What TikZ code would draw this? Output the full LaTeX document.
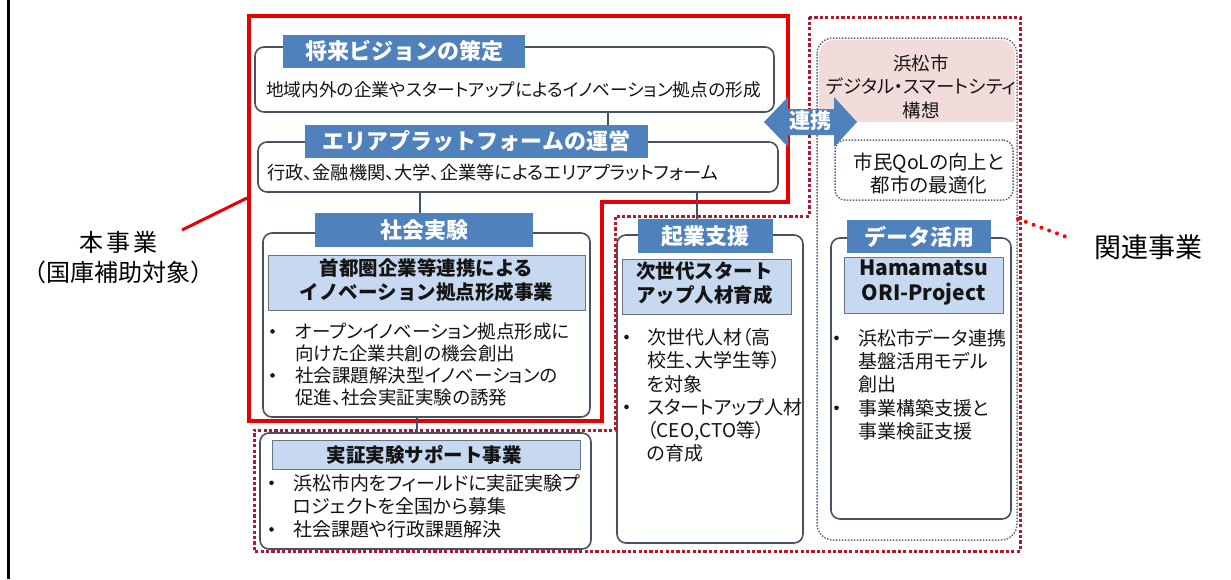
\documentclass[tikz,border=0pt]{standalone}
\usepackage{fontspec}
\setmainfont{Noto Sans CJK JP}[RawFeature=+palt]
\newfontfamily\fwfont{Noto Sans CJK JP}
\definecolor{tagblue}{RGB}{79,129,189}
\definecolor{headblue}{RGB}{198,217,241}
\definecolor{boxgray}{RGB}{68,82,98}
\definecolor{solidred}{RGB}{232,0,0}
\definecolor{dotred}{RGB}{180,22,48}
\definecolor{dotgray}{RGB}{90,100,115}
\definecolor{pinkfill}{RGB}{242,220,219}
\definecolor{txt}{RGB}{20,20,20}
\newcommand{\fsz}[2]{\fontsize{#1}{#2}\selectfont}
\newcommand{\bl}[1][23pt]{\makebox[#1][l]{\raisebox{0.5ex}{\tikz\fill (0,0) circle[radius=2.3pt];}}}
\begin{document}
\begin{tikzpicture}[x=1pt,y=-1pt,
  wh/.style 2 args={minimum width=#1pt, minimum height=#2pt},
  panel/.style={draw=boxgray, line width=1.6pt, rounded corners=9pt, fill=white, inner sep=0pt},
  tag/.style={fill=tagblue, text=white, inner sep=0pt, font=\fwfont\bfseries\fsz{22}{26}},
  head/.style={fill=headblue, draw=boxgray!80, line width=0.8pt, inner sep=0pt},
  headtxt/.style={font=\fwfont\bfseries\fsz{19.5}{24}, align=center, inner sep=0pt, text=txt},
  body/.style={font=\fsz{19}{23.3}, inner sep=0pt, text=txt},
  list/.style={body, anchor=north west, align=left},
  conn/.style={draw=boxgray, line width=1.5pt},
  redframe/.style={draw=solidred, line width=4pt},
  dotframe/.style={draw=dotred, line width=3pt, dash pattern=on 3.2pt off 2.2pt},
  grayframe/.style={draw=dotgray, line width=1.5pt, dash pattern=on 1.5pt off 1.5pt},
  sidelabel/.style={font=\fwfont\fsz{24}{30}, align=center, inner sep=0pt, text=black},
]
\useasboundingbox (0,0) rectangle (1231,579);
\fill[white] (0,0) rectangle (1231,579);
\draw[line width=2.8pt] (8.7,0) -- (8.7,579);

% related-project region
\draw[grayframe, rounded corners=16pt] (817,38) rectangle (1017,540);
\begin{scope}
  \clip (800,30) rectangle (1030,121);
  \fill[pinkfill, rounded corners=15pt] (819,40) rectangle (1015,160);
\end{scope}
\node[body, font=\fsz{18.5}{23.5}, align=center] (dss) at (921,86.5) {浜松市\\デジタル・スマートシティ\\構想};
\node[grayframe, rounded corners=10pt, wh={178}{60}, inner sep=0pt] (qolbox) at (924,170) {};
\node[body, font=\fsz{19.5}{23}, align=center] (qol) at (929,173.5) {市民QoLの向上と\\都市の最適化};

% panels
\node[panel, wh={519}{65}] (p1) at (514.5,79.5) {};
\node[panel, wh={520}{50}] (p2) at (518,167) {};
\node[panel, wh={327}{184}] (p3) at (426.5,325) {};
\node[panel, wh={186}{308}] (p4) at (710,389) {};
\node[panel, wh={180}{281}] (p5) at (921,378.5) {};
\node[panel, wh={331}{116}] (p6) at (425.5,491) {};

% frames
\draw[redframe] (249,16) -- (788,16) -- (788,202) -- (602,202) -- (602,421) -- (249,421) -- cycle;
\draw[dotframe] (809,17) -- (1020,17) -- (1020,551) -- (254,551) -- (254,430) -- (615,430) -- (615,216) -- (809,216) -- cycle;

% tags, headers
\node[tag, wh={242}{33}] (t1) at (404,51.5) {将来ビジョンの策定};
\node[tag, wh={343}{33}] (t2) at (476.5,141.5) {エリアプラットフォームの運営};
\node[tag, wh={218}{34}] (t3) at (424,230) {社会実験};
\node[tag, wh={135}{34}] (t4) at (705.5,236) {起業支援};
\node[tag, wh={144}{33}] (t5) at (919,236.5) {データ活用};

\node[head, wh={317}{55}] (h3) at (426.5,282.5) {};
\node[head, wh={169}{55}] (h4) at (706.5,286.5) {};
\node[head, wh={159}{56}] (h5) at (923.5,285) {};
\node[head, wh={308}{29}] (h6) at (426,454.5) {};

% connectors
\coordinate (ca) at (608,0);
\coordinate (cb) at (420,0);
\coordinate (cc) at (697,0);
\coordinate (cd) at (417,0);
\draw[conn] (p1.south -| ca) -- (t2.north -| ca);
\draw[conn] (p2.south -| cb) -- (t3.north -| cb);
\draw[conn] (p2.south -| cc) -- (t4.north -| cc);
\draw[conn] (p3.south -| cd) -- (p6.north -| cd);

% texts
\node[body, font=\fsz{17.7}{23}, anchor=west] (x1) at (266,90) {地域内外の企業やスタートアップによるイノベーション拠点の形成};
\node[body, font=\fsz{18.2}{23}, anchor=west] (x2) at (267,173) {行政、金融機関、大学、企業等によるエリアプラットフォーム};

\node[headtxt] (ht3) at (426.5,280) {首都圏企業等連携による\\イノベーション拠点形成事業};
\node[list, font=\fsz{18.5}{22}] (l3) at (270,323) {\bl[25pt]オープンイノベーション拠点形成に\\\hspace*{25pt}向けた企業共創の機会創出\\\bl[25pt]社会課題解決型イノベーションの\\\hspace*{25pt}促進、社会実証実験の誘発};

\node[headtxt, anchor=west, align=left] (ht4) at (636,283) {次世代スタート\\アップ人材育成};
\node[list] (l4) at (624,328) {\bl[23pt]次世代人材（高\\\hspace*{23pt}校生、大学生等）\\\hspace*{23pt}を対象\\\bl[23pt]スタートアップ人材\\\hspace*{23pt}（CEO,CTO等）\\\hspace*{23pt}の育成};

\node[headtxt, font=\bfseries\fsz{21}{25}] (ht5) at (923.5,282.5) {Hamamatsu\\ORI-Project};
\node[list] (l5) at (834,329) {\bl[24pt]浜松市データ連携\\\hspace*{24pt}基盤活用モデル\\\hspace*{24pt}創出\\\bl[24pt]事業構築支援と\\\hspace*{24pt}事業検証支援};

\node[headtxt] (ht6) at (424,455) {実証実験サポート事業};
\node[list] (l6) at (269,474) {\bl[24pt]浜松市内をフィールドに実証実験プ\\\hspace*{24pt}ロジェクトを全国から募集\\\bl[24pt]社会課題や行政課題解決};

% link arrow
\fill[tagblue] (764,122) -- (788,97) -- (788,109) -- (834,109) -- (834,97) -- (857,122) -- (834,147) -- (834,135) -- (788,135) -- (788,147) -- cycle;
\node[font=\fwfont\bfseries\fsz{21}{24}, text=white, inner sep=0pt] (renkei) at (810,121) {連携};

% side labels
\node[sidelabel] (hon) at (118.5,258) {本\hspace{3pt}事\hspace{3pt}業\\（国庫補助対象）};
\coordinate (honend) at (182,230);
\coordinate (redL) at (247,198);
\draw[solidred, line width=3pt] (honend) -- (redL);
\node[sidelabel, font=\fwfont\fsz{27}{30}] (kan) at (1148,247) {関連事業};
\coordinate (kanend) at (1072,239);
\coordinate (dotR) at (1018,219);
\draw[red, line width=4pt, line cap=round, dash pattern=on 0pt off 8.3pt] (dotR) -- (kanend);
\end{tikzpicture}
\end{document}
